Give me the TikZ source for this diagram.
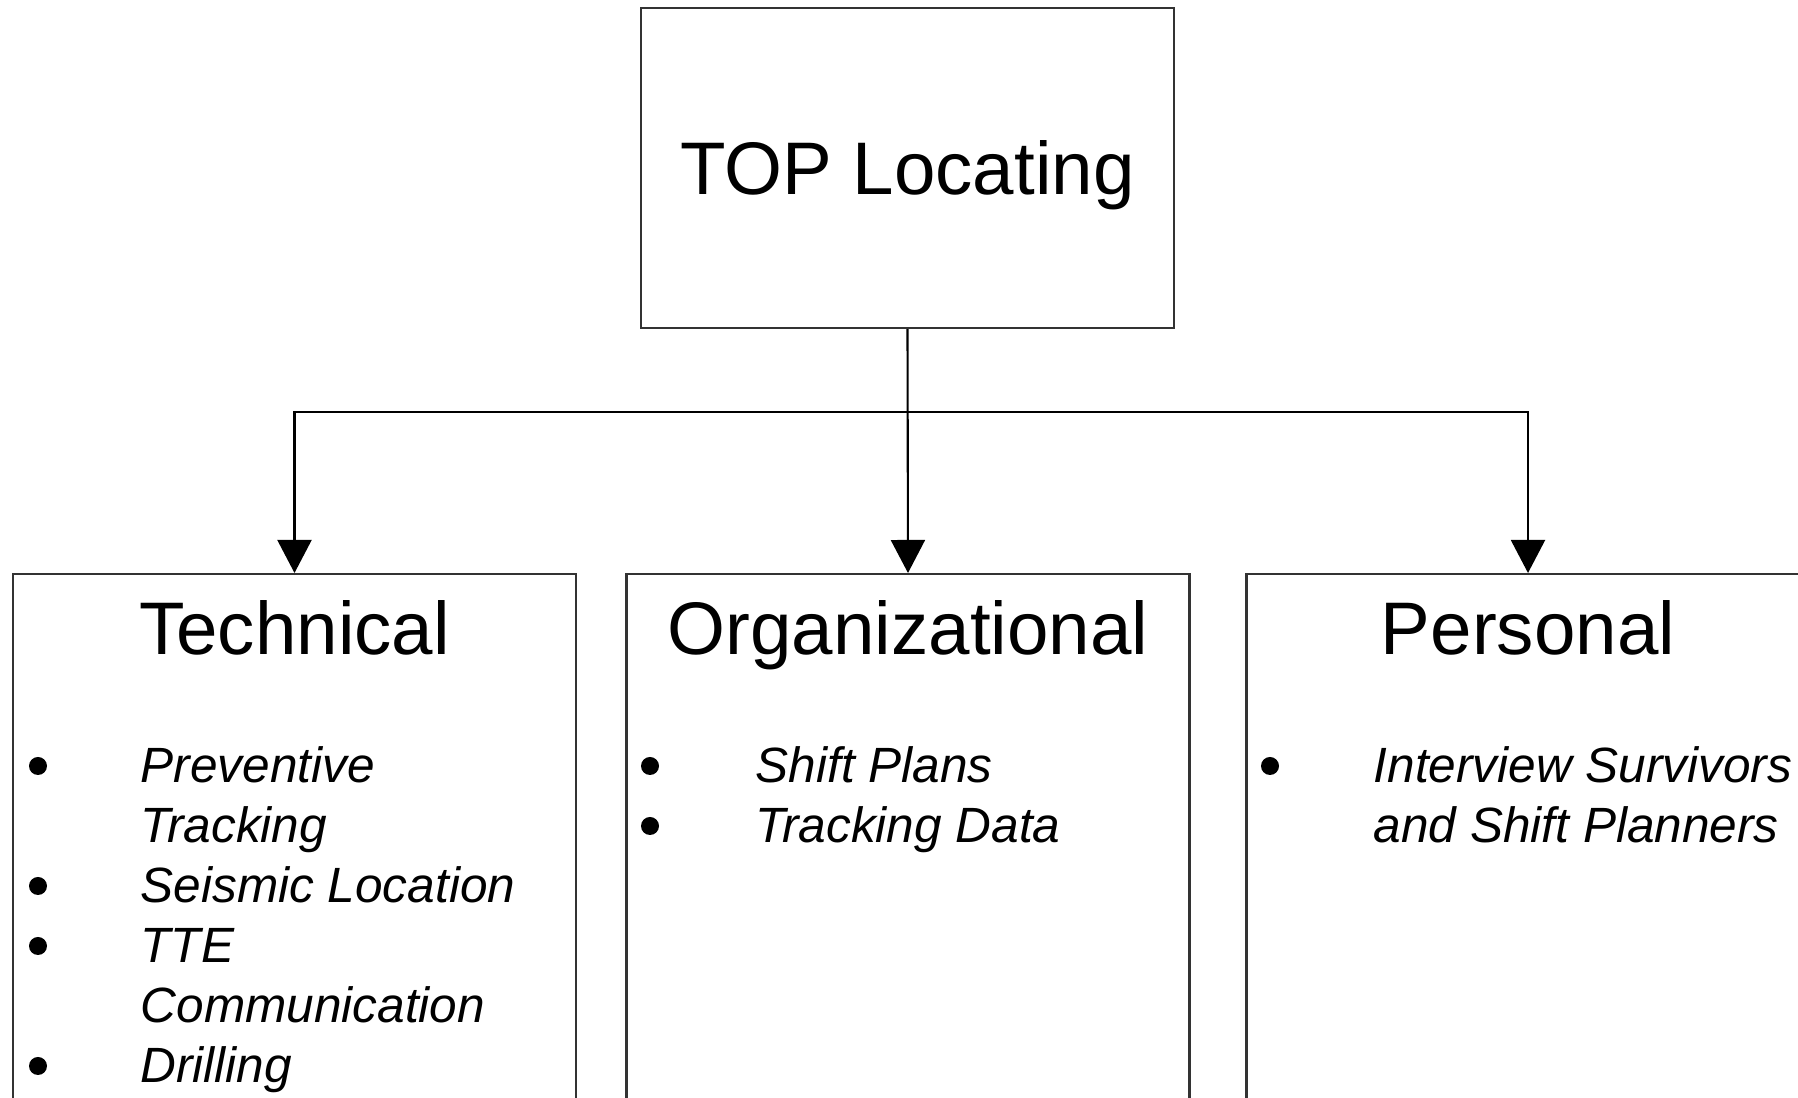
\documentclass[tikz,border=0pt]{standalone}
\usepackage{fontspec}
\setmainfont{Liberation Sans}
\usetikzlibrary{arrows.meta}
\usetikzlibrary{positioning}

\tikzset{
  box/.style={draw=black!80,line width=0.6pt,fill=none,inner sep=0pt},
  head/.style={font=\fontsize{21.2}{26}\selectfont,inner sep=0pt},
  item/.style={font=\fontsize{14.1}{17}\selectfont\itshape,inner sep=0pt,anchor=base west},
  link/.style={line width=0.6pt,-{Triangle[length=0.33cm,width=0.34cm]}}
}

\begin{document}
\begin{tikzpicture}
\useasboundingbox (0,0) rectangle (17.98,10.98);
\clip (0,0) rectangle (17.98,10.98);

% top box
\node[box,head,text depth=0pt,minimum width=5.33cm,minimum height=3.20cm] (top) at (9.075,9.30) {TOP Locating};

% three category boxes (run off the bottom edge)
\node[box,minimum width=5.63cm,minimum height=6cm,anchor=north] (tech) at (2.945,5.25) {};
\node[box,minimum width=5.63cm,minimum height=6cm,anchor=north] (org) at (9.08,5.25) {};
\node[box,minimum width=5.63cm,minimum height=6cm,anchor=north] (pers) at (15.28,5.25) {};

\node[head,anchor=base] (techhead) at (2.945,4.43) {Technical};
\node[head,anchor=base] (orghead) at (9.08,4.43) {Organizational};
\node[head,anchor=base] (pershead) at (15.28,4.43) {Personal};

% connectors
\coordinate (split) at (9.08,6.86);
\draw[link] (top.south) -- (org.north);
\draw[link] (top.south |- split) -| (tech.north);
\draw[link] (top.south |- split) -| (pers.north);

% technical items
\node[item] (t1) at (1.40,3.15) {Preventive};
\node[item] (t2) at (1.40,2.55) {Tracking};
\node[item] (t3) at (1.40,1.95) {Seismic Location};
\node[item] (t4) at (1.40,1.35) {TTE};
\node[item] (t5) at (1.40,0.75) {Communication};
\node[item] (t6) at (1.40,0.15) {Drilling};
\fill (0.38,3.32) circle (0.09);
\fill (0.38,2.12) circle (0.09);
\fill (0.38,1.52) circle (0.09);
\fill (0.38,0.32) circle (0.09);

% organizational items
\node[item] (o1) at (7.55,3.15) {Shift Plans};
\node[item] (o2) at (7.55,2.55) {Tracking Data};
\fill (6.50,3.32) circle (0.09);
\fill (6.50,2.72) circle (0.09);

% personal items
\node[item] (p1) at (13.73,3.15) {Interview Survivors};
\node[item] (p2) at (13.73,2.55) {and Shift Planners};
\fill (12.70,3.32) circle (0.09);

\end{tikzpicture}
\end{document}
